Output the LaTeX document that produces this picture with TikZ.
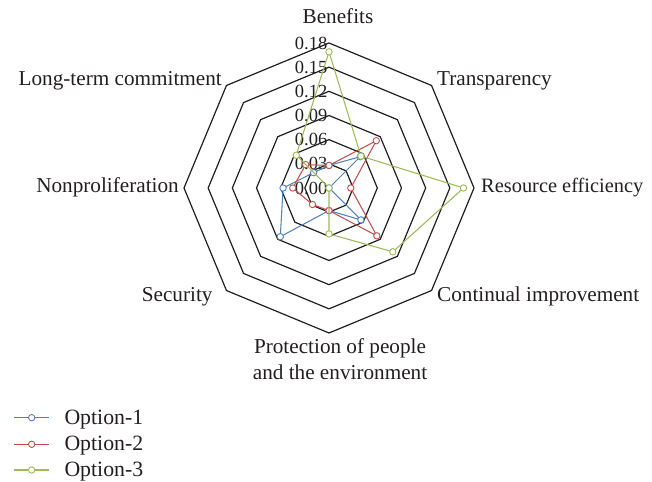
\documentclass[tikz,border=0pt]{standalone}
\usepackage{fontspec}
\setmainfont{Liberation Serif}
\definecolor{sa}{RGB}{79,129,189}
\definecolor{sb}{RGB}{192,80,77}
\definecolor{sc}{RGB}{155,187,89}
\definecolor{txt}{RGB}{35,31,32}
\begin{document}
\begin{tikzpicture}[x=1pt,y=1pt,
  ring/.style={draw=black!88, line width=1.2pt, line join=miter},
  lbl/.style={font=\fontsize{21.2}{26}\selectfont, text=txt, inner sep=0pt},
  leglbl/.style={font=\fontsize{21.8}{26}\selectfont, text=txt, inner sep=0pt},
  ticklbl/.style={font=\fontsize{18.5}{20}\selectfont, text=txt, inner sep=0pt, anchor=east},
  ser/.style={line width=1.05pt, line join=round},
  mk/.style={circle, draw, fill=white, line width=0.9pt, inner sep=0pt, minimum size=6.4pt}]
\useasboundingbox (0,0) rectangle (652,481);
\begin{scope}[shift={(329,293)}]
  % rings
  \foreach \i in {1,...,6} {
    \draw[ring] (90:\i*24.1667) \foreach \a in {45,0,-45,-90,-135,-180,-225} {-- (\a:\i*24.1667)} -- cycle;
  }
  % tick labels
  \foreach \i/\t in {0/0.00,1/0.03,2/0.06,3/0.09,4/0.12,5/0.15,6/0.18} {
    \node[ticklbl] (tk\i) at (-1.5,\i*24.1667) {\t};
  }
  % data coordinates
  \foreach \v [count=\k from 0] in {0.028,0.055,0,0.056,0.028,0.0855,0.057,0.027} {
    \coordinate (a\k) at ({90-45*\k}:{\v*805.56});
  }
  \foreach \v [count=\k from 0] in {0.028,0.083,0.027,0.084,0.028,0.029,0.045,0.041} {
    \coordinate (b\k) at ({90-45*\k}:{\v*805.56});
  }
  \foreach \v [count=\k from 0] in {0.169,0.056,0.167,0.112,0.057,0,0,0.0575} {
    \coordinate (c\k) at ({90-45*\k}:{\v*805.56});
  }
  % series 1
  \draw[ser, sa] (a0)--(a1)--(a2)--(a3)--(a4)--(a5)--(a6)--(a7)--cycle;
  \foreach \k in {0,...,7} {\node[mk, draw=sa] (ma\k) at (a\k) {};}
  % series 2
  \draw[ser, sb] (b0)--(b1)--(b2)--(b3)--(b4)--(b5)--(b6)--(b7)--cycle;
  \foreach \k in {0,...,7} {\node[mk, draw=sb] (mb\k) at (b\k) {};}
  % series 3
  \draw[ser, sc] (c0)--(c1)--(c2)--(c3)--(c4)--(c5)--(c6)--(c7)--cycle;
  \foreach \k in {0,...,7} {\node[mk, draw=sc] (mc\k) at (c\k) {};}
\end{scope}
% axis labels
\node[lbl, anchor=base] (l0) at (338,457.5) {Benefits};
\node[lbl, anchor=base west] (l1) at (437,395.5) {Transparency};
\node[lbl, anchor=base west, font=\fontsize{20.4}{26}\selectfont] (l2) at (481,288) {Resource efficiency};
\node[lbl, anchor=base west] (l3) at (437,179.5) {Continual improvement};
\node[lbl, anchor=base, align=center] (l4) at (340,101.5) {Protection of people\\and the environment};
\node[lbl, anchor=base east] (l5) at (212.7,179.5) {Security};
\node[lbl, anchor=base east] (l6) at (179,288) {Nonproliferation};
\node[lbl, anchor=base east] (l7) at (222,395.5) {Long-term commitment};
% legend
\foreach \s/\col/\y [count=\n] in {1/sa/63.3,2/sb/36.7,3/sc/11} {
  \coordinate (lg\n a) at (14,\y);
  \coordinate (lg\n b) at (49.3,\y);
  \draw[ser, \col] (lg\n a) -- (lg\n b);
  \node[mk, draw=\col] (lgm\n) at (31.7,\y) {};
  \node[leglbl, anchor=base west] (lgt\n) at (64.3,\y-6.5) {Option-\s};
}
\end{tikzpicture}
\end{document}
